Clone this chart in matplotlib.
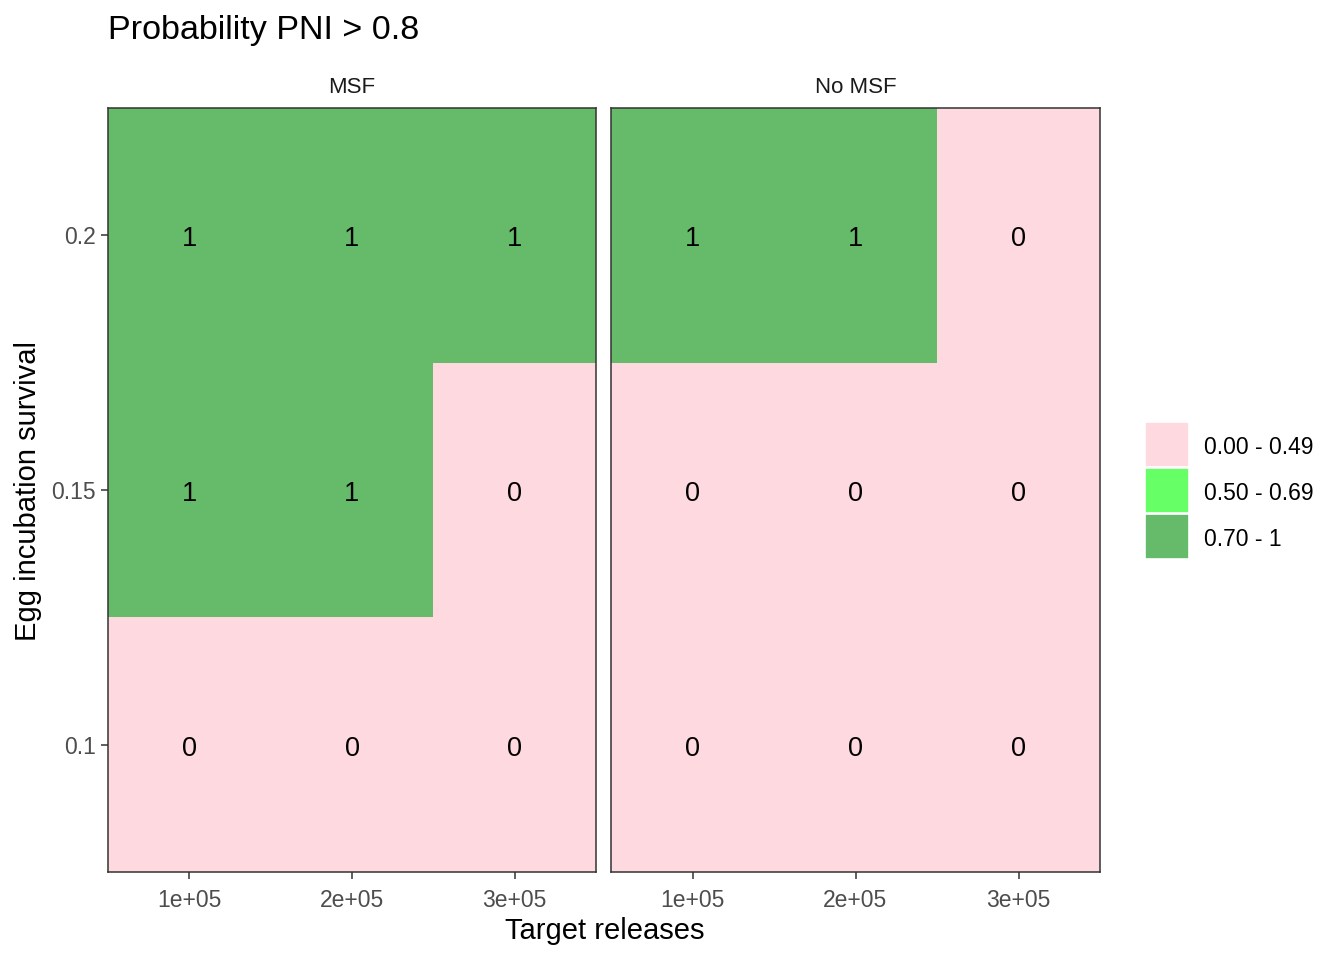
import matplotlib
matplotlib.use("Agg")
import matplotlib.pyplot as plt
import numpy as np
from matplotlib.colors import ListedColormap, BoundaryNorm
from matplotlib.patches import Rectangle
from matplotlib.transforms import ScaledTranslation

plt.rcParams['font.family'] = ['Liberation Sans', 'DejaVu Sans']

# ---- data ----
releases = ["1e+05", "2e+05", "3e+05"]
survival = ["0.1", "0.15", "0.2"]
facets = ["MSF", "No MSF"]
# rows: survival 0.1, 0.15, 0.2 ; cols: releases
msf_values = [[0, 0, 0],
              [1, 1, 0],
              [1, 1, 1]]
nomsf_values = [[0, 0, 0],
                [0, 0, 0],
                [1, 1, 0]]
legend_labels = ["0.00 - 0.49", "0.50 - 0.69", "0.70 - 1"]
bin_edges = [0.0, 0.5, 0.7, 1.01]
bin_colors = ["#FFD9E0", "#66FF66", "#66BB6A"]

W, H = 1344, 960
fig = plt.figure(figsize=(W / 100, H / 100), dpi=100)

def px_axes(x0, y0, x1, y1):
    return fig.add_axes([x0 / W, 1 - y1 / H, (x1 - x0) / W, (y1 - y0) / H])

cmap = ListedColormap(bin_colors)
norm = BoundaryNorm(bin_edges, cmap.N)
down = ScaledTranslation(0, -4 / 100, fig.dpi_scale_trans)

panels = [(108, 596), (611, 1100)]
top, bottom = 108, 872
for i, (name, vals) in enumerate(zip(facets, [msf_values, nomsf_values])):
    x0, x1 = panels[i]
    ax = px_axes(x0, top, x1, bottom)
    arr = np.array(vals, dtype=float)
    xe = np.arange(len(releases) + 1) - 0.5
    ye = np.arange(len(survival) + 1) - 0.5
    ax.pcolormesh(xe, ye, arr, cmap=cmap, norm=norm, shading='flat')
    for r in range(arr.shape[0]):
        for c in range(arr.shape[1]):
            ax.text(c, r, f"{int(arr[r, c])}", ha='center', va='center',
                    fontsize=19.5, color='black', transform=ax.transData + down)
    ax.set_xlim(-0.5, len(releases) - 0.5)
    ax.set_ylim(-0.5, len(survival) - 0.5)
    ax.set_xticks(range(len(releases)))
    ax.set_xticklabels(releases)
    ax.set_yticks(range(len(survival)))
    if i == 0:
        ax.set_yticklabels(survival)
    else:
        ax.tick_params(axis='y', left=False, labelleft=False)
    ax.tick_params(axis='both', length=5, width=1.1, color='#333333',
                   labelcolor='#4D4D4D', labelsize=16.5, pad=4)
    ax.tick_params(axis='x', pad=7)
    for sp in ax.spines.values():
        sp.set_color('#333333')
        sp.set_linewidth(1.1)
    ax.set_title(name, fontsize=16, color='#1A1A1A', pad=11)

fig.text(108 / W, 1 - 30 / H, "Probability PNI > 0.8", fontsize=24.6,
         ha='left', va='center', color='black')
fig.text(605 / W, 1 - 931 / H, "Target releases", fontsize=21,
         ha='center', va='center', color='black')
fig.text(28 / W, 1 - 491 / H, "Egg incubation survival", fontsize=21,
         ha='center', va='center', rotation=90, color='black')

# legend
lax = px_axes(0, 0, W, H)
lax.set_xlim(0, W)
lax.set_ylim(H, 0)
lax.axis('off')
ly = [422, 468, 514]
for yy, col, lab in zip(ly, bin_colors, legend_labels):
    lax.add_patch(Rectangle((1145, yy), 44, 45, facecolor=col,
                            edgecolor='white', linewidth=1.2))
    lax.text(1204, yy + 26, lab, fontsize=16.5, ha='left', va='center',
             color='black')

fig.savefig("out.png", dpi=100)
